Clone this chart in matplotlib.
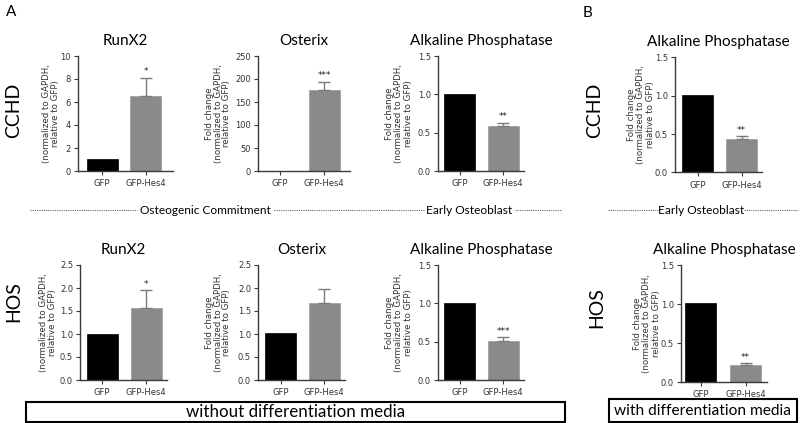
import matplotlib
matplotlib.use("Agg")
import matplotlib.pyplot as plt
from matplotlib.patches import Rectangle
from matplotlib.lines import Line2D

# ---------------- data ----------------
groups = ["GFP", "GFP-Hes4"]
genes_a = ["RunX2", "Osterix", "Alkaline Phosphatase"]
gene_b = "Alkaline Phosphatase"

cchd_gfp = [1.07, 1.0, 1.01]
cchd_hes4 = [6.5, 176, 0.587]
cchd_err = [1.62, 18, 0.043]
cchd_sig = ["*", "***", "**"]

hos_gfp = [1.01, 1.02, 1.01]
hos_hes4 = [1.57, 1.67, 0.51]
hos_err = [0.38, 0.31, 0.045]
hos_sig = ["*", "", "***"]

b_cchd_gfp, b_cchd_hes4, b_cchd_err, b_cchd_sig = 1.01, 0.435, 0.035, "**"
b_hos_gfp, b_hos_hes4, b_hos_err, b_hos_sig = 1.01, 0.22, 0.02, "**"

yticks_cchd = [[0, 2, 4, 6, 8, 10], [0, 50, 100, 150, 200, 250], [0.0, 0.5, 1.0, 1.5]]
yticks_hos = [[0.0, 0.5, 1.0, 1.5, 2.0, 2.5], [0.0, 0.5, 1.0, 1.5, 2.0, 2.5], [0.0, 0.5, 1.0, 1.5]]
yticks_b = [0.0, 0.5, 1.0, 1.5]

# ---------------- figure ----------------
W, H = 800, 423
fig = plt.figure(figsize=(W / 100, H / 100), dpi=100)

TITLE_FONT = ["Lato", "DejaVu Sans"]
TICK_FONT = ["DejaVu Sans"]
SPINE = "#3a3a3a"
GRAY = "#8a8a8a"


def px_axes(L, R, top, bottom):
    return fig.add_axes([L / W, 1 - bottom / H, (R - L) / W, (bottom - top) / H])


def panel(L, R, c0, c1, top, bottom, title, gfp, hes4, err, sig, yt, fmt, ylab_full, ylab_dx):
    ax = px_axes(L, R, top, bottom)
    s = c1 - c0
    ax.set_xlim((L - c0) / s, (R - c0) / s)
    ax.set_ylim(0, yt[-1])
    bw = 31 / s
    ax.bar([0, 1], [gfp, hes4], width=bw, color=["black", GRAY],
           edgecolor=["black", "#9a9a9a"], linewidth=0.5, zorder=2)
    ax.errorbar([1], [hes4], yerr=[[0], [err]], fmt="none", ecolor="#7a7a7a",
                elinewidth=1.0, capsize=4.5, capthick=1.0, zorder=3)
    if sig:
        ax.annotate(sig, (1, hes4 + err), xytext=(0, 1.0), textcoords="offset points",
                    ha="center", va="bottom", fontsize=6.5, color="#222222",
                    family=TICK_FONT)
    ax.set_yticks(yt)
    ax.set_yticklabels([fmt.format(v) for v in yt])
    ax.set_xticks([0, 1])
    ax.set_xticklabels(groups)
    for sp in ["top", "right"]:
        ax.spines[sp].set_visible(False)
    for sp in ["left", "bottom"]:
        ax.spines[sp].set_color(SPINE)
        ax.spines[sp].set_linewidth(1.0)
    ax.tick_params(axis="both", length=3, width=0.8, color=SPINE, labelsize=6,
                   labelcolor="#333333", pad=2)
    ax.tick_params(axis="x", pad=3)
    for lab in ax.get_xticklabels() + ax.get_yticklabels():
        lab.set_family(TICK_FONT)
    ax.set_title(title, fontsize=11, family=TITLE_FONT, pad=8)
    ylab = ("Fold change\n" if ylab_full else "") + "(normalized to GAPDH,\nrelative to GFP)"
    ax.text(-ylab_dx / (R - L), 0.5, ylab, transform=ax.transAxes, rotation=90,
            ha="center", va="center", fontsize=6.2, color="#333333",
            family=TICK_FONT, linespacing=1.0)
    return ax


# layout: (L, R, c0, c1)
top_layout = [(78, 173, 102, 145.5), (258, 350, 279.5, 324), (438, 524, 459.5, 503)]
bot_layout = [(80, 167, 102, 146), (258, 345, 280.5, 324), (438, 524, 459.5, 503)]
fmts_cchd = ["{:.0f}", "{:.0f}", "{:.1f}"]
ylab_full = [False, True, True]
ylab_dx_top = [27, 40, 39]
ylab_dx_bot = [32, 40, 39]

for i in range(3):
    L, R, c0, c1 = top_layout[i]
    panel(L, R, c0, c1, 56, 171, genes_a[i], cchd_gfp[i], cchd_hes4[i], cchd_err[i],
          cchd_sig[i], yticks_cchd[i], fmts_cchd[i], ylab_full[i], ylab_dx_top[i])
    L, R, c0, c1 = bot_layout[i]
    panel(L, R, c0, c1, 265, 380, genes_a[i], hos_gfp[i], hos_hes4[i], hos_err[i],
          hos_sig[i], yticks_hos[i], "{:.1f}", ylab_full[i], ylab_dx_bot[i])

panel(675, 762, 697.5, 741.5, 57.5, 172.5, gene_b, b_cchd_gfp, b_cchd_hes4, b_cchd_err,
      b_cchd_sig, yticks_b, "{:.1f}", True, 34)
panel(681, 767, 700.5, 745.5, 265, 382, gene_b, b_hos_gfp, b_hos_hes4, b_hos_err,
      b_hos_sig, yticks_b, "{:.1f}", True, 34)


# ---------------- annotations ----------------
def fx(x):
    return x / W


def fy(y):
    return 1 - y / H


fig.text(fx(6), fy(12), "A", fontsize=11, family=TITLE_FONT, ha="left", va="center")
fig.text(fx(583), fy(13), "B", fontsize=11, family=TITLE_FONT, ha="left", va="center")

for x, y, t in [(14, 110, "CCHD"), (14, 302, "HOS"), (595, 110, "CCHD"), (597, 308, "HOS")]:
    fig.text(fx(x), fy(y), t, fontsize=14, family=TITLE_FONT, rotation=90,
             ha="center", va="center")


def dotted(x0, x1, y):
    fig.add_artist(Line2D([fx(x0), fx(x1)], [fy(y), fy(y)], transform=fig.transFigure,
                          color="#666666", lw=0.8, linestyle=(0, (1, 1))))


sep_y = 210
SEP_FS = 8.6
dotted(30, 137, sep_y)
fig.text(fx(205.5), fy(sep_y), "Osteogenic Commitment", fontsize=SEP_FS, family=TITLE_FONT,
         ha="center", va="center")
dotted(274, 424, sep_y)
fig.text(fx(469.5), fy(sep_y), "Early Osteoblast", fontsize=SEP_FS, family=TITLE_FONT,
         ha="center", va="center")
dotted(515, 562, sep_y)
dotted(608, 660, sep_y)
fig.text(fx(701.5), fy(sep_y), "Early Osteoblast", fontsize=SEP_FS, family=TITLE_FONT,
         ha="center", va="center")
dotted(744, 798, sep_y)


def box(x0, x1, y0, y1, text, fs):
    fig.add_artist(Rectangle((fx(x0), fy(y1)), (x1 - x0) / W, (y1 - y0) / H,
                             transform=fig.transFigure, fill=False, ec="black", lw=1.5))
    fig.text(fx((x0 + x1) / 2), fy((y0 + y1) / 2 + 0.5), text, fontsize=fs,
             family=TITLE_FONT, ha="center", va="center")


box(26, 565, 402, 421.5, "without differentiation media", 12.2)
box(609, 797, 399, 421.5, "with differentiation media", 11.2)

fig.savefig("out.png", dpi=100)
